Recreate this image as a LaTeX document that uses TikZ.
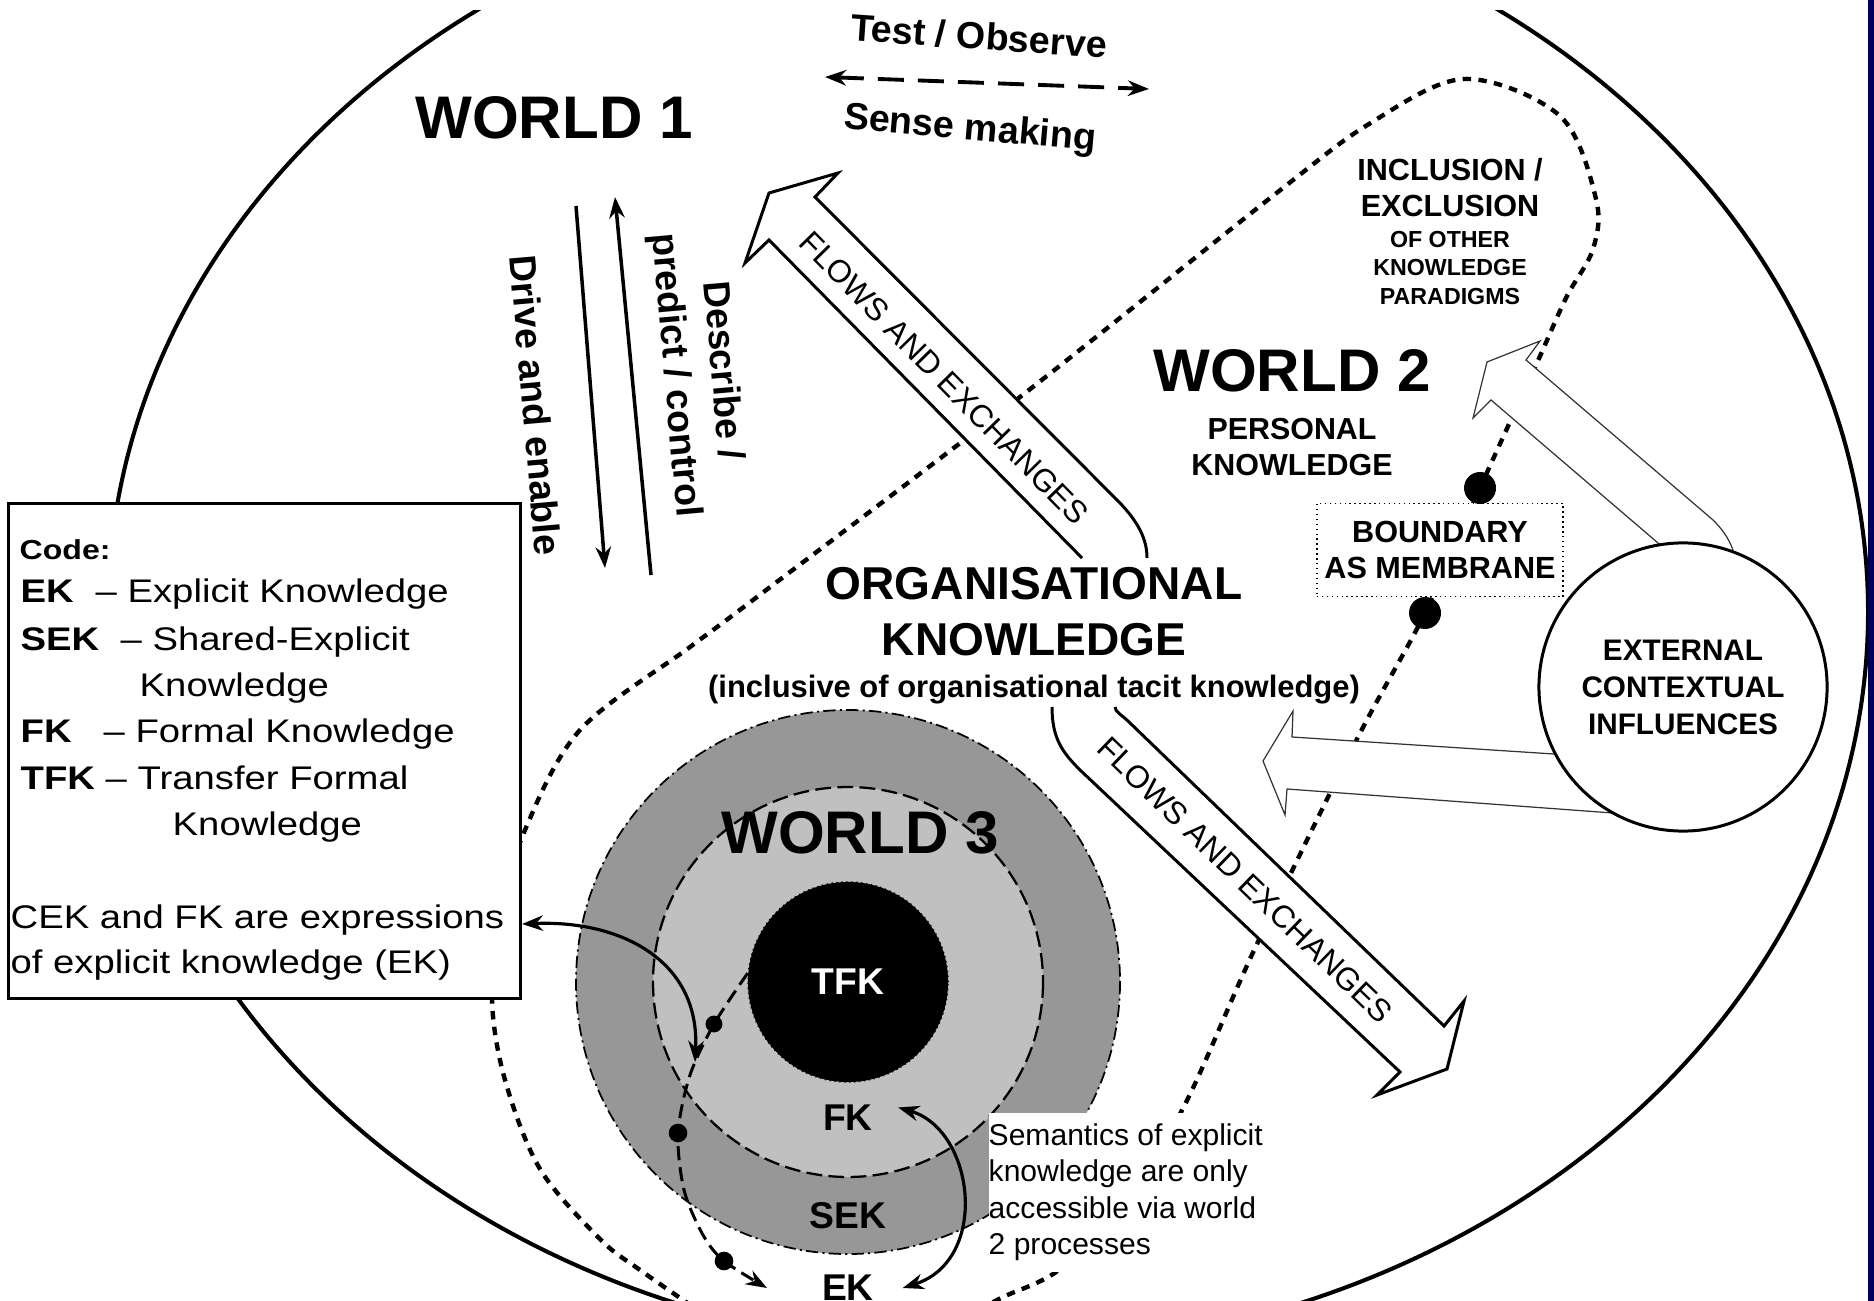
\documentclass[tikz,border=0pt]{standalone}
\usepackage{fontspec}
\usepackage{graphicx}
\setmainfont{Liberation Sans}
\usetikzlibrary{arrows.meta}
\definecolor{ringdark}{HTML}{979797}
\definecolor{ringlight}{HTML}{C0C0C0}
\definecolor{slidenavy}{HTML}{00005C}
\newcommand\wide[1]{\scalebox{1.17}[1]{#1}}
\tikzset{
  worldtxt/.style={font=\fontsize{17.1}{20}\selectfont\bfseries, inner sep=0pt},
  verbtxt/.style={font=\fontsize{10.7}{13.4}\selectfont\bfseries, align=center, inner sep=0pt},
  captxt/.style={font=\fontsize{8.7}{10.2}\selectfont\bfseries, align=center, inner sep=0pt},
  flowtxt/.style={font=\fontsize{9}{11}\selectfont, inner sep=0pt},
  keytxt/.style={font=\fontsize{9.3}{13}\selectfont, anchor=base west, inner sep=0pt},
  ringtxt/.style={font=\fontsize{10.6}{12}\selectfont\bfseries, inner sep=0pt},
  w2edge/.style={line width=1.25pt, dash pattern=on 2.4pt off 2.1pt},
  w3edge/.style={line width=.85pt, dash pattern=on 4pt off 2pt},
  flowarrow/.style={line width=.85pt, fill=white},
  pusharrow/.style={line width=.35pt, draw=black!80, fill=white},
  bead/.style={circle, fill=black, inner sep=0pt, minimum size=#1},
  headed/.style={-{Stealth[length=6pt,width=4.4pt]}},
  twoheaded/.style={{Stealth[length=6pt,width=4.4pt]}-{Stealth[length=6pt,width=4.4pt]}},
}
\begin{document}
\begin{tikzpicture}[x=0.01cm,y=-0.01cm]
\useasboundingbox (0,0) rectangle (1874,1301);
\fill[slidenavy] (1868,0) rectangle (1874,1301);
% world 1 and the world 2 boundary
\begin{scope}
\clip (0,11) rectangle (1868,1301);
\draw[line width=1.15pt] (988,612) ellipse [x radius=880, y radius=739];
\draw[w2edge] plot[smooth, tension=.55] coordinates {(705,1315) (640,1270) (600,1239) (540,1169) (505,1080) (492,1000) (500,915) (525,830) (580,730) (690,647) (753,600) (1020,397) (1274,195) (1369,124) (1464,79) (1560,116) (1596,199) (1593,249) (1566,298) (1536,365) (1480,488) (1425,613) (1357,739) (1256,946) (1181,1112) (1110,1220) (1056,1272) (1003,1297) (975,1312)};
\end{scope}
% world 3 rings
\coordinate (w3) at (848,982);
\fill[ringdark] (w3) circle [radius=272];
\draw[line width=.5pt, dash pattern=on 3.5pt off 1.2pt on .6pt off 1.2pt] (w3) circle [radius=272];
\fill[ringlight] (w3) circle [radius=195];
\draw[line width=.65pt, dash pattern=on 4.5pt off 1.8pt] (w3) circle [radius=195];
\node[circle, fill=black, draw=black, densely dotted, minimum size=2cm, ringtxt, text=white] (tfk) at (w3) {TFK};
\node[fill=white, anchor=north west, align=left, inner xsep=0pt, inner ysep=3pt, font=\fontsize{8.55}{10.4}\selectfont] (semantics) at (988,1112) {Semantics of explicit\\knowledge are only\\accessible via world\\2 processes};
% code box
\node[draw, fill=white, line width=.85pt, minimum width=5.11cm, minimum height=4.94cm, inner sep=0pt] (code) at (264.5,751) {};
\node[keytxt] at (19,560) {\wide{\fontsize{7.8}{9}\selectfont\bfseries Code:}};
\node[keytxt] at (20,603) {\wide{\bfseries EK}}; \node[keytxt] at (95,603) {\wide{– Explicit Knowledge}};
\node[keytxt] at (20,650) {\wide{\bfseries SEK}}; \node[keytxt] at (120,650) {\wide{– Shared-Explicit}};
\node[keytxt] at (139,696) {\wide{Knowledge}};
\node[keytxt] at (20,742) {\wide{\bfseries FK}}; \node[keytxt] at (103,742) {\wide{– Formal Knowledge}};
\node[keytxt] at (20,789) {\wide{\bfseries TFK}}; \node[keytxt] at (105,789) {\wide{– Transfer Formal}};
\node[keytxt] at (172,835) {\wide{Knowledge}};
\node[keytxt] at (10,928) {\wide{CEK and FK are expressions}};
\node[keytxt] at (10,973) {\wide{of explicit knowledge (EK)}};
% flows and exchanges
\draw[flowarrow] (1082,558) -- (769,240) -- (745,263) -- (769,193) -- (838,173) -- (815,197) -- (1120,503) .. controls (1137,521) and (1147,538) .. (1147,558);
\draw[flowarrow] (1052,707) .. controls (1052,738) and (1062,752) .. (1080,770) -- (1400,1072) -- (1377,1095) -- (1447,1069) -- (1464,1001) -- (1444,1026) -- (1130,723) .. controls (1121,714) and (1115,712) .. (1115,707);
\node[flowtxt, rotate=-45.5] at (944,378) {FLOWS AND EXCHANGES};
\node[flowtxt, rotate=-44] at (1245,880) {FLOWS AND EXCHANGES};
% external influences
\draw[pusharrow] (1700,579) -- (1491,400) -- (1473,418) -- (1487,362) -- (1540,341) -- (1526,360) -- (1713,520) .. controls (1726,533) and (1733,545) .. (1737,565) -- cycle;
\draw[pusharrow] (1600,757) -- (1292,737) -- (1293,711) -- (1263,761) -- (1285,815) -- (1287,789) -- (1640,815) -- cycle;
\node[circle, draw, line width=.85pt, fill=white, minimum size=2.88cm, inner sep=0pt, align=center, font=\fontsize{8.45}{10.5}\selectfont\bfseries] (extern) at (1683,687) {EXTERNAL\\CONTEXTUAL\\INFLUENCES};
\node[draw, densely dotted, line width=.4pt, fill=white, minimum width=2.46cm, minimum height=.93cm, captxt, font=\fontsize{8.7}{10.5}\selectfont\bfseries] (membrane) at (1440,550) {BOUNDARY\\AS MEMBRANE};
\node[bead=9.1pt] at (1480,488) {}; \node[bead=9.1pt] at (1425,613) {};
% titles
\node[worldtxt] (world1) at (554,118) {WORLD 1};
\node[worldtxt] (world2) at (1292,371) {WORLD 2};
\node[worldtxt] (world3) at (860,833) {WORLD 3};
\node[captxt, font=\fontsize{8.65}{10.2}\selectfont\bfseries] at (1292,447) {PERSONAL\\KNOWLEDGE};
\node[captxt] at (1450,188) {INCLUSION /\\EXCLUSION};
\node[captxt, font=\fontsize{6.6}{8}\selectfont\bfseries] at (1450,268) {OF OTHER\\KNOWLEDGE\\PARADIGMS};
\node[align=center, inner sep=0pt, font=\fontsize{13.1}{15.9}\selectfont\bfseries] (org) at (1034,612) {ORGANISATIONAL\\KNOWLEDGE};
\node[inner sep=0pt, font=\fontsize{8.8}{10}\selectfont\bfseries] at (1034,690) {(inclusive of organisational tacit knowledge)};
\node[ringtxt] (fk) at (848,1118) {FK};
\node[ringtxt] (sek) at (848,1216) {SEK};
\node[ringtxt] (ek) at (848,1288) {EK};
% world 1 verbs
\node[verbtxt, rotate=-4] at (979,36) {Test / Observe};
\node[verbtxt, rotate=-5] at (970,130) {Sense making};
\node[verbtxt, rotate=-85] at (536,405) {Drive and enable};
\node[verbtxt, rotate=-85] at (698,373) {Describe /\\predict / control};
\coordinate (drivetop) at (576,206); \coordinate (driveend) at (605,568);
\draw[line width=1pt, headed] (drivetop) -- (driveend);
\coordinate (descstart) at (651,575); \coordinate (descend) at (615,197);
\draw[line width=1pt, headed] (descstart) -- (descend);
\coordinate (testleft) at (825,77); \coordinate (testright) at (1149,89);
\draw[line width=1.1pt, dash pattern=on 7.4pt off 4pt, twoheaded] (testleft) -- (testright);
% links inside world 3
\coordinate (cekout) at (522,924); \coordinate (cekin) at (695,1062);
\draw[line width=.9pt, twoheaded] (cekout) .. controls (620,920) and (700,960) .. (cekin);
\draw[line width=.9pt, twoheaded] ([xshift=7pt,yshift=3pt]fk.east) .. controls (975,1130) and (990,1260) .. ([xshift=8pt]ek.east);
\coordinate (ekin) at (767,1288);
\draw[w3edge, headed] plot[smooth] coordinates {(tfk.175) (714,1024) (690,1075) (678,1133) (684,1190) (703,1235) (724,1261) (ekin)};
\node[bead=4.8pt] at (714,1024) {}; \node[bead=5.3pt] at (678,1133) {}; \node[bead=5.3pt] at (724,1261) {};
\end{tikzpicture}
\end{document}
